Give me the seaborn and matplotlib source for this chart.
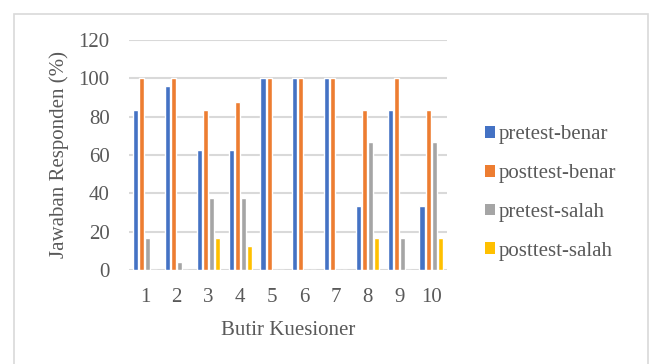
import matplotlib
matplotlib.use("Agg")
import matplotlib.pyplot as plt
import seaborn as sns
import pandas as pd
from matplotlib.patches import Rectangle, Patch

items = ["1", "2", "3", "4", "5", "6", "7", "8", "9", "10"]
pretest_benar = [83.3, 95.8, 62.5, 62.5, 100, 100, 100, 33.3, 83.3, 33.3]
posttest_benar = [100, 100, 83.3, 87.5, 100, 100, 100, 83.3, 100, 83.3]
pretest_salah = [16.7, 4.2, 37.5, 37.5, 0, 0, 0, 66.7, 16.7, 66.7]
posttest_salah = [0, 0, 16.7, 12.5, 0, 0, 0, 16.7, 0, 16.7]
series_names = ["pretest-benar", "posttest-benar", "pretest-salah", "posttest-salah"]
colors = ["#4472C4", "#ED7D31", "#A5A5A5", "#FFC000"]

rows = []
for name, vals in zip(series_names, [pretest_benar, posttest_benar, pretest_salah, posttest_salah]):
    for it, v in zip(items, vals):
        rows.append({"Butir": it, "Seri": name, "Nilai": v})
df = pd.DataFrame(rows)

sns.set_theme(style="white")
plt.rcParams["font.family"] = ["Liberation Serif", "DejaVu Serif"]
txt = "#595959"

fig = plt.figure(figsize=(6.52, 3.64), dpi=100)
fig.patches.append(Rectangle((14 / 652, -0.1), 634 / 652, 1.1 - 14 / 364,
                             transform=fig.transFigure, fill=False,
                             edgecolor="#D9D9D9", linewidth=1.2))
ax = fig.add_axes([129 / 652, 1 - 270 / 364, 318 / 652, 230 / 364])

sns.barplot(data=df, x="Butir", y="Nilai", hue="Seri", order=items,
            hue_order=series_names, palette=colors, width=0.76, gap=0.15,
            ax=ax, legend=False, saturation=1)

ax.set_ylim(0, 120)
ax.set_xlim(-0.5, 9.5)
ax.set_yticks(range(0, 121, 20))
ax.grid(axis="y", color="#D9D9D9", linewidth=1.5)
ax.set_axisbelow(True)
for s in ax.spines.values():
    s.set_visible(False)
ax.tick_params(axis="both", length=0, labelsize=15, colors=txt)
ax.tick_params(axis="y", pad=14)
ax.tick_params(axis="x", pad=13)
ax.set_xlabel("Butir Kuesioner", fontsize=15, color=txt, labelpad=10)
ax.set_ylabel("Jawaban Responden (%)", fontsize=15, color=txt, labelpad=7)

handles = [Patch(facecolor=c, edgecolor="none") for c in colors]
fig.legend(handles, series_names, loc="center left",
           bbox_to_anchor=(485 / 652, 1 - 193 / 364), frameon=False,
           borderaxespad=0, borderpad=0,
           fontsize=15, labelcolor=txt, handlelength=0.5, handleheight=0.5,
           handletextpad=0.15, labelspacing=0.95)

fig.savefig("out.png", dpi=100)
